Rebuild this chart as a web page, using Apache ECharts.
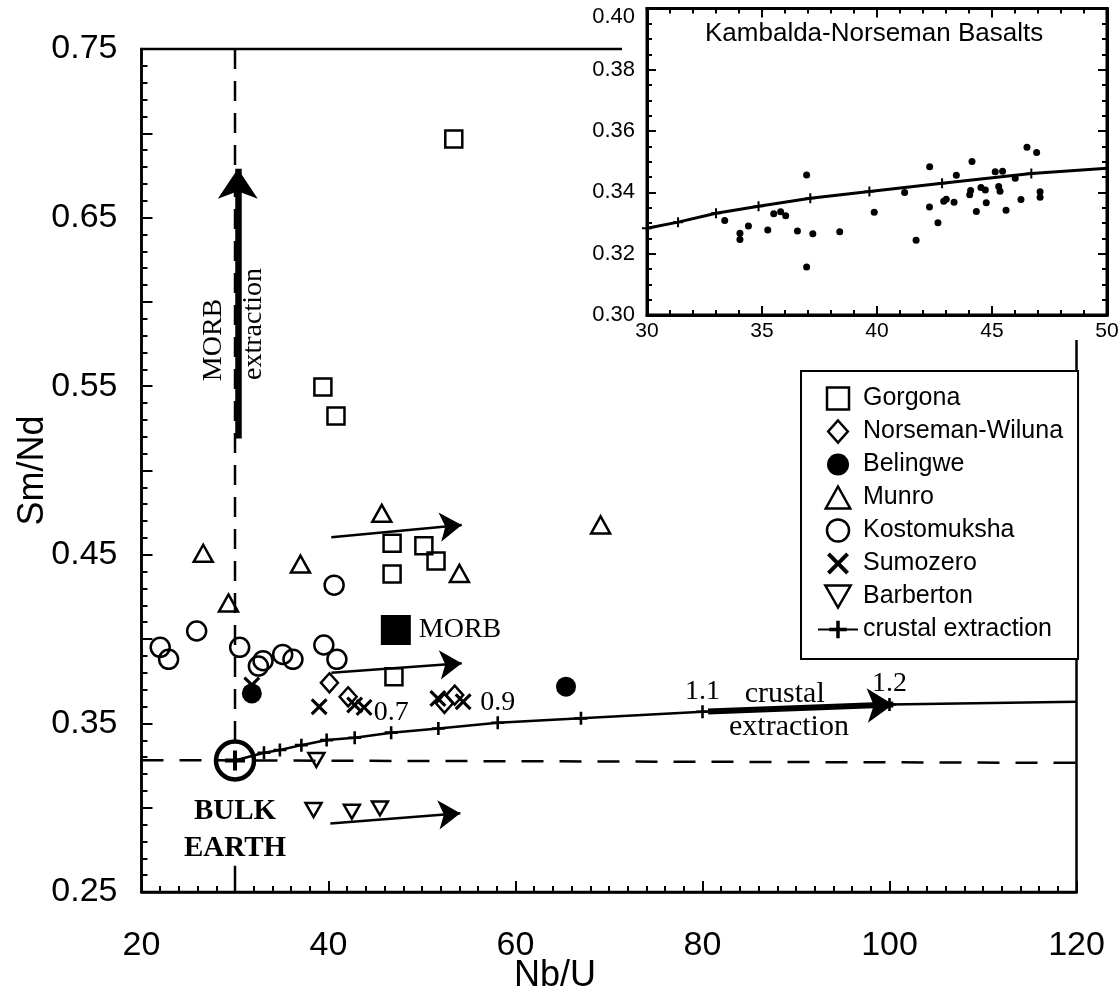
<!DOCTYPE html>
<html>
<head>
<meta charset="utf-8">
<script src="https://cdn.jsdelivr.net/npm/echarts@6/dist/echarts.min.js"></script>
<style>
html, body { margin: 0; padding: 0; background: #fff; }
#chart { width: 1120px; height: 992px; }
</style>
</head>
<body>
<div id="chart"></div>
<script>
// main diagram: Nb/U vs Sm/Nd
var gorgona = [[53.4, 0.6966], [39.4, 0.5495], [40.8, 0.5323], [46.8, 0.4568], [46.8, 0.4386], [50.2, 0.4553], [51.5, 0.4463], [47.0, 0.3777]];
var norsemanWiluna = [[40.1, 0.3741], [42.1, 0.3658], [52.4, 0.3619], [53.5, 0.3668]];
var belingwe = [[31.8, 0.3678], [65.4, 0.3718]];
var munro = [[26.6, 0.4509], [29.3, 0.4214], [37.0, 0.4445], [45.7, 0.4746], [54.0, 0.4390], [69.1, 0.4677]];
var kostomuksha = [[22.0, 0.3951], [22.9, 0.3880], [25.9, 0.4048], [30.5, 0.3951], [32.5, 0.3840], [33.0, 0.3872],
    [35.1, 0.3909], [36.2, 0.3880], [39.5, 0.3965], [40.9, 0.3880], [40.6, 0.4320]];
var sumozero = [[31.8, 0.3728], [39.0, 0.3599], [42.8, 0.3609], [43.8, 0.3595], [51.7, 0.3648], [54.4, 0.3628]];
var barberton = [[38.7, 0.3283], [38.4, 0.2986], [42.5, 0.2976], [45.5, 0.2996]];
var morb = [[47.2, 0.4054]];
var bulkEarth = [[30, 0.328]];

var crustalCurve = [[30, 0.328], [33.1, 0.3326], [34.8, 0.3342], [37.1, 0.3371], [39.8, 0.3401], [42.8, 0.3415],
    [46.7, 0.3445], [51.75, 0.3470], [58.1, 0.3504], [67.0, 0.3530], [80.0, 0.3569], [100.0, 0.3612], [120, 0.3628]];
var curveLabels = {6: '0.7', 8: '0.9', 10: '1.1', 11: '1.2'};

var bulkVertical = [[30, 0.75], [30, 0.328]];
var bulkTick = [[30, 0.25], [30, 0.2655]];
var bulkHorizontal = [[20, 0.3282], [120, 0.3266]];

var shiftArrows = [
    [[40.3, 0.4604], [54.25, 0.4677]],
    [[40.3, 0.3800], [54.25, 0.3857]],
    [[40.2, 0.2907], [54.1, 0.2967]]
];
var morbArrow = [[30.3, 0.519], [30.3, 0.679]];
var crustArrow = [[80.6, 0.3570], [100.4, 0.3612]];

var notes = [
    {text: 'MORB', at: [27.75, 0.5774], rotate: 90, size: 28},
    {text: 'extraction', at: [32.03, 0.5869], rotate: 90, size: 28},
    {text: 'crustal', at: [88.8, 0.3674], rotate: 0, size: 30},
    {text: 'extraction', at: [89.25, 0.3479], rotate: 0, size: 30}
];

// inset: Kambalda-Norseman basalts
var insetDots = [[33.38, 0.3308], [34.04, 0.3267], [34.04, 0.3246], [34.41, 0.3290], [35.25, 0.3277], [35.51, 0.3330],
    [35.81, 0.3337], [36.03, 0.3324], [36.54, 0.3274], [36.94, 0.3457], [36.94, 0.3157], [37.21, 0.3265], [38.38, 0.3272],
    [39.88, 0.3335], [41.20, 0.3400], [41.70, 0.3244], [42.29, 0.3484], [42.28, 0.3352], [42.65, 0.3301], [42.90, 0.3371],
    [43.01, 0.3378], [43.35, 0.3368], [43.45, 0.3456], [44.03, 0.3392], [44.07, 0.3406], [44.13, 0.3501], [44.32, 0.3338],
    [44.52, 0.3416], [44.71, 0.3408], [44.75, 0.3366], [45.14, 0.3467], [45.29, 0.3419], [45.35, 0.3404], [45.46, 0.3469],
    [45.61, 0.3342], [46.01, 0.3446], [46.26, 0.3377], [46.52, 0.3547], [46.94, 0.3530], [47.09, 0.3402], [47.09, 0.3384]];
var insetCurve = [[30, 0.3283], [31.35, 0.3303], [33.0, 0.3332], [34.85, 0.3355], [37.1, 0.3381], [39.67, 0.3403],
    [42.83, 0.3430], [46.71, 0.3462], [50, 0.3479]];

var legendNames = ['Gorgona', 'Norseman-Wiluna', 'Belingwe', 'Munro', 'Kostomuksha', 'Sumozero', 'Barberton', 'crustal extraction'];

var SANS = 'Liberation Sans';
var SERIF = 'Liberation Serif';
var plusPath = 'path://M4,0H6V4H10V6H6V10H4V6H0V4H4Z';
var crossPath = 'path://M0,1.3L1.3,0L5,3.7L8.7,0L10,1.3L6.3,5L10,8.7L8.7,10L5,6.3L1.3,10L0,8.7L3.7,5Z';
var squarePath = 'path://M0,0H10V10H0Z';
var diamondPath = 'path://M5,0L10,5.6L5,11.2L0,5.6Z';
var upTriPath = 'path://M5,0L10,9L0,9Z';
var downTriPath = 'path://M0,0L10,0L5,8.7Z';

var openStyle = {color: 'rgba(0,0,0,0)', borderColor: '#000', borderWidth: 2.5, opacity: 1};
var solidStyle = {color: '#000', opacity: 1};

function openScatter(name, data, symbol, size) {
    return {
        name: name, type: 'scatter', data: data, symbol: symbol, symbolSize: size,
        symbolKeepAspect: true, itemStyle: openStyle, z: 3
    };
}

function plainLine(data, width, dash) {
    return {
        type: 'line', data: data, symbol: 'none', silent: true, z: 1,
        lineStyle: {color: '#000', width: width, type: dash || 'solid'}
    };
}

function arrows(list, width, head) {
    return {
        type: 'lines', coordinateSystem: 'cartesian2d', silent: true, z: 2,
        symbol: ['none', 'arrow'], symbolSize: [0, head],
        lineStyle: {color: '#000', width: width, opacity: 1, curveness: 0},
        data: list.map(function (c) { return {coords: c}; })
    };
}

var curveData = crustalCurve.map(function (p, i) {
    var d = {value: p};
    if (i === 0) d.symbolSize = 20;
    if (i === crustalCurve.length - 1) d.symbol = 'none';
    if (curveLabels[i]) {
        d.label = {
            show: true, formatter: curveLabels[i], position: 'top', distance: 0,
            fontFamily: SERIF, fontSize: 28, color: '#000'
        };
    }
    return d;
});

var noteData = notes.map(function (n) {
    return {
        value: n.at,
        label: {
            show: true, formatter: n.text, position: 'inside', rotate: n.rotate,
            fontFamily: SERIF, fontSize: n.size, color: '#000'
        }
    };
});

var tickLine = {color: '#000', width: 2};
var chart = echarts.init(document.getElementById('chart'));

var option = {
    animation: false,
    backgroundColor: '#fff',
    title: {
        text: 'Kambalda-Norseman Basalts', left: 700, top: 16, z: 120,
        textStyle: {fontFamily: SANS, fontSize: 26, fontWeight: 'normal', color: '#000'}
    },
    legend: {
        orient: 'vertical', left: 801, top: 371, z: 5,
        padding: [15, 15, 17, 16], itemWidth: 40, itemHeight: 22, itemGap: 8,
        borderColor: '#000', borderWidth: 2, backgroundColor: '#fff',
        selectedMode: false, symbolKeepAspect: true,
        itemStyle: {borderWidth: 'inherit'},
        textStyle: {fontFamily: SANS, fontSize: 25, color: '#000'},
        data: legendNames
    },
    graphic: [{
        type: 'rect', z: 100, silent: true,
        shape: {x: 622, y: 0, width: 498, height: 340},
        style: {fill: '#fff'}
    }],
    grid: [
        {left: 141.5, right: 43.5, top: 49, bottom: 100, outerBoundsMode: 'none',
            show: true, borderColor: '#000', borderWidth: 2.5},
        {left: 647, right: 13, top: 8.5, bottom: 677, outerBoundsMode: 'none',
            show: true, borderColor: '#000', borderWidth: 3, backgroundColor: '#fff', z: 110}
    ],
    xAxis: [
        {
            gridIndex: 0, type: 'value', min: 20, max: 120, interval: 20,
            axisLine: {lineStyle: {color: '#000', width: 2.5}},
            axisTick: {inside: true, length: 11, lineStyle: tickLine},
            minorTick: {show: true, splitNumber: 10, length: 6, lineStyle: tickLine},
            splitLine: {show: false},
            axisLabel: {margin: 37, fontFamily: SANS, fontSize: 34, color: '#000'},
            name: 'Nb/U', nameLocation: 'middle', nameGap: 66, nameMoveOverlap: false,
            nameTextStyle: {fontFamily: SANS, fontSize: 36, color: '#000', padding: [0, 108, 0, 0]}
        },
        {
            gridIndex: 1, type: 'value', min: 30, max: 50, interval: 5, z: 110,
            axisLine: {lineStyle: {color: '#000', width: 3}},
            axisTick: {inside: true, length: 9, lineStyle: tickLine},
            minorTick: {show: true, splitNumber: 5, length: 5, lineStyle: tickLine},
            splitLine: {show: false},
            axisLabel: {margin: 6, fontFamily: SANS, fontSize: 21, color: '#000'}
        },
        {
            gridIndex: 1, type: 'value', position: 'top', min: 30, max: 50, interval: 5, z: 110,
            axisLine: {lineStyle: {color: '#000', width: 3}},
            axisTick: {inside: true, length: 9, lineStyle: tickLine},
            minorTick: {show: true, splitNumber: 5, length: 5, lineStyle: tickLine},
            splitLine: {show: false},
            axisLabel: {show: false}
        }
    ],
    yAxis: [
        {
            gridIndex: 0, type: 'value', min: 0.25, max: 0.75, interval: 0.05,
            axisLine: {lineStyle: {color: '#000', width: 2.5}},
            axisTick: {inside: true, length: 11, lineStyle: tickLine},
            minorTick: {show: true, splitNumber: 5, length: 6, lineStyle: tickLine},
            splitLine: {show: false},
            axisLabel: {
                margin: 24, fontFamily: SANS, fontSize: 34, color: '#000',
                formatter: function (v) { return Math.round(v * 100) % 10 === 5 ? v.toFixed(2) : ''; }
            },
            name: 'Sm/Nd', nameLocation: 'middle', nameGap: 90, nameMoveOverlap: false,
            nameTextStyle: {fontFamily: SANS, fontSize: 36, color: '#000'}
        },
        {
            gridIndex: 1, type: 'value', min: 0.30, max: 0.40, interval: 0.02, z: 110,
            axisLine: {lineStyle: {color: '#000', width: 3}},
            axisTick: {inside: true, length: 9, lineStyle: tickLine},
            minorTick: {show: true, splitNumber: 4, length: 5, lineStyle: tickLine},
            splitLine: {show: false},
            axisLabel: {
                margin: 12, fontFamily: SANS, fontSize: 22, color: '#000',
                formatter: function (v) {
                    return v > 0.399 ? '{top|' + v.toFixed(2) + '}' : v.toFixed(2);
                },
                rich: {top: {fontFamily: SANS, fontSize: 22, color: '#000', padding: [16, 0, 0, 0]}}
            }
        },
        {
            gridIndex: 1, type: 'value', position: 'right', min: 0.30, max: 0.40, interval: 0.02, z: 110,
            axisLine: {lineStyle: {color: '#000', width: 3}},
            axisTick: {inside: true, length: 9, lineStyle: tickLine},
            minorTick: {show: true, splitNumber: 4, length: 5, lineStyle: tickLine},
            splitLine: {show: false},
            axisLabel: {show: false}
        }
    ],
    series: [
        plainLine(bulkVertical, 2.5, [20, 12]),
        plainLine(bulkTick, 2.5),
        plainLine(bulkHorizontal, 2.5, [22, 16]),
        arrows(shiftArrows, 2.5, 22),
        arrows([morbArrow], 6.5, 30),
        arrows([crustArrow], 6, 26),
        {
            name: 'crustal extraction', type: 'line', data: curveData, z: 3,
            symbol: plusPath, symbolSize: 13,
            lineStyle: {color: '#000', width: 2.5},
            itemStyle: solidStyle
        },
        {
            type: 'scatter', data: bulkEarth, symbol: 'circle', symbolSize: 38, z: 3,
            itemStyle: {color: 'rgba(0,0,0,0)', borderColor: '#000', borderWidth: 4.5, opacity: 1},
            label: {
                show: true, position: 'bottom', distance: 11, formatter: 'BULK\nEARTH',
                fontFamily: SERIF, fontWeight: 'bold', fontSize: 29, lineHeight: 37, color: '#000', align: 'center'
            }
        },
        openScatter('Gorgona', gorgona, squarePath, 17),
        openScatter('Norseman-Wiluna', norsemanWiluna, diamondPath, 19),
        {name: 'Belingwe', type: 'scatter', data: belingwe, symbol: 'circle', symbolSize: 20, itemStyle: solidStyle, z: 3},
        openScatter('Munro', munro, upTriPath, 19),
        openScatter('Kostomuksha', kostomuksha, 'circle', 19),
        {name: 'Sumozero', type: 'scatter', data: sumozero, symbol: crossPath, symbolSize: 17, symbolKeepAspect: true,
            itemStyle: solidStyle, z: 3},
        openScatter('Barberton', barberton, downTriPath, 16),
        {
            type: 'scatter', data: morb, symbol: 'rect', symbolSize: 30, itemStyle: solidStyle, z: 3,
            label: {show: true, formatter: 'MORB', position: 'right', distance: 8, fontFamily: SERIF, fontSize: 28, color: '#000'}
        },
        {
            type: 'scatter', data: noteData, symbolSize: 1, silent: true, z: 5,
            itemStyle: {color: 'rgba(0,0,0,0)', opacity: 1}
        },
        {
            type: 'scatter', xAxisIndex: 1, yAxisIndex: 1, data: insetDots, symbol: 'circle', symbolSize: 7,
            itemStyle: solidStyle, z: 120
        },
        {
            type: 'line', xAxisIndex: 1, yAxisIndex: 1, z: 120,
            data: insetCurve.map(function (p, i) { return i === insetCurve.length - 1 ? {value: p, symbol: 'none'} : p; }),
            symbol: plusPath, symbolSize: 10,
            lineStyle: {color: '#000', width: 3},
            itemStyle: solidStyle
        }
    ]
};

chart.setOption(option);
</script>
</body>
</html>
